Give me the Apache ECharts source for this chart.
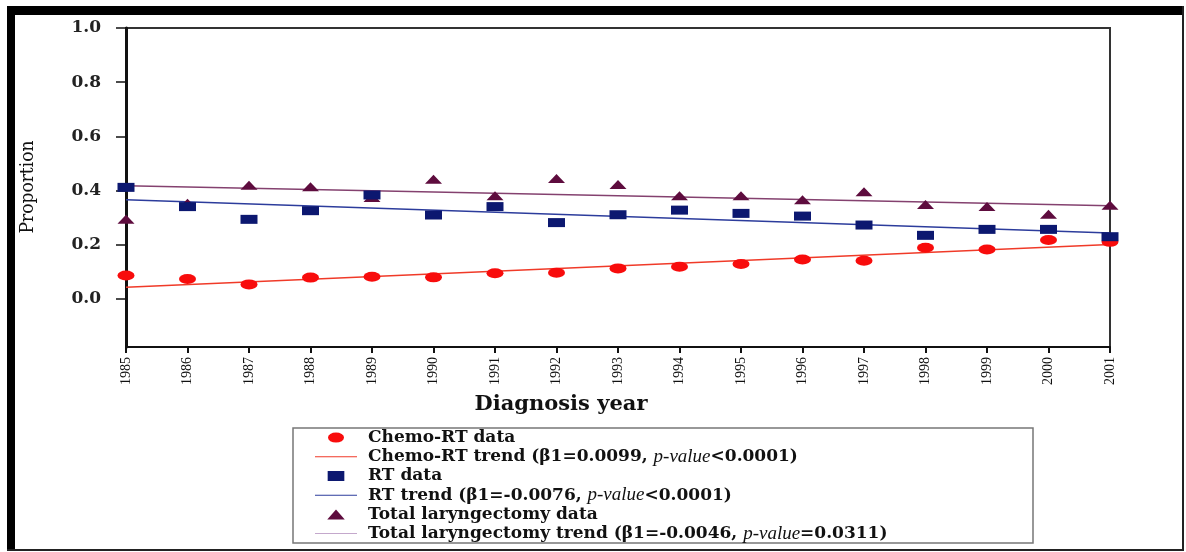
<!DOCTYPE html>
<html>
<head>
<meta charset="utf-8">
<script src="https://cdn.jsdelivr.net/npm/echarts@6/dist/echarts.min.js"></script>
<style>
  html, body { margin: 0; padding: 0; background: #fff; }
  #chart { width: 1186px; height: 552px; }
</style>
</head>
<body>
<div id="chart"></div>
<script>
  // values
  const years = [1985, 1986, 1987, 1988, 1989, 1990, 1991, 1992, 1993, 1994, 1995, 1996, 1997, 1998, 1999, 2000, 2001];
  const chemoData = [0.087, 0.074, 0.054, 0.079, 0.082, 0.080, 0.095, 0.097, 0.113, 0.119, 0.129, 0.146, 0.141, 0.189, 0.183, 0.218, 0.211];
  const rtData = [0.412, 0.341, 0.294, 0.326, 0.384, 0.310, 0.341, 0.282, 0.311, 0.328, 0.316, 0.306, 0.273, 0.235, 0.257, 0.257, 0.230];
  const tlData = [0.294, 0.353, 0.420, 0.414, 0.375, 0.442, 0.381, 0.445, 0.423, 0.381, 0.381, 0.366, 0.396, 0.349, 0.341, 0.313, 0.346];
  // trend lines: value at first and last year
  const chemoTrend = [0.043, 0.201];
  const rtTrend = [0.366, 0.244];
  const tlTrend = [0.418, 0.344];
  const yTicks = [0, 0.2, 0.4, 0.6, 0.8, 1.0];

  const names = [
    'Chemo-RT data',
    'Chemo-RT trend',
    'RT data',
    'RT trend',
    'Total laryngectomy data',
    'Total laryngectomy trend'
  ];
  const trendText = {
    'Chemo-RT trend': ['(β1=0.0099, ', '<0.0001)'],
    'RT trend': ['(β1=-0.0076, ', '<0.0001)'],
    'Total laryngectomy trend': ['(β1=-0.0046, ', '=0.0311)']
  };

  const pairs = (vals) => years.map((y, i) => [y, vals[i]]);
  const trend = (t) => [[years[0], t[0]], [years[years.length - 1], t[1]]];

  const myChart = echarts.init(document.getElementById('chart'));

  const serif = 'Liberation Serif';
  const boldSerif = 'DejaVu Serif';
  const narrow = "'Liberation Sans Narrow', 'DejaVu Serif Condensed', 'Liberation Serif'";
  // thin bar used as the legend icon of the trend lines, so no dot is drawn on them
  const lineIcon = 'path://M0,0 L42,0 L42,1 L0,1 Z';

  const options = {
    animation: false,
    backgroundColor: '#fff',
    grid: {
      left: 126,
      right: 76,
      top: 28,
      bottom: 205,
      show: true,
      borderColor: '#333',
      borderWidth: 2
    },
    xAxis: {
      type: 'value',
      min: 1985,
      max: 2001,
      interval: 1,
      splitLine: { show: false },
      axisLine: { onZero: false, lineStyle: { color: '#111', width: 2 } },
      axisTick: { length: 6, lineStyle: { color: '#111', width: 2 } },
      axisLabel: {
        rotate: 90,
        margin: 10,
        color: '#111',
        fontFamily: serif,
        fontSize: 14,
        formatter: (v) => String(v)
      }
    },
    yAxis: {
      type: 'value',
      min: -0.177,
      max: 1,
      splitLine: { show: false },
      axisLine: { show: true, lineStyle: { color: '#111', width: 3 } },
      axisTick: { show: true, length: 10, customValues: yTicks, lineStyle: { color: '#111', width: 1.5 } },
      axisLabel: {
        customValues: yTicks,
        margin: 25,
        color: '#222',
        fontFamily: boldSerif,
        fontWeight: 'bold',
        fontSize: 17,
        formatter: (v) => v.toFixed(1)
      }
    },
    legend: {
      orient: 'vertical',
      left: 315,
      top: 428,
      padding: 0,
      itemWidth: 42,
      itemHeight: 10,
      itemGap: 0,
      selectedMode: false,
      data: [
        { name: names[0], icon: 'path://M8,0 A8,5 0 1,1 8,10 A8,5 0 1,1 8,0 Z' },
        { name: names[1], icon: lineIcon },
        { name: names[2], icon: 'path://M0,0 L15,0 L15,9 L0,9 Z' },
        { name: names[3], icon: lineIcon, lineStyle: { width: 2 } },
        { name: names[4], icon: 'path://M7,0 L14,8 L0,8 Z' },
        { name: names[5], icon: lineIcon, lineStyle: { color: '#c4a8cc', width: 1.5 }, itemStyle: { color: '#c4a8cc' } }
      ],
      formatter: (name) => {
        const t = trendText[name];
        if (!t) return '{b|' + name + '}';
        return '{b|' + name + ' ' + t[0] + '}{i|p-value}{b|' + t[1] + '}';
      },
      textStyle: {
        padding: [0, 0, 0, 6],
        lineHeight: 19.2,
        rich: {
          b: { fontFamily: boldSerif, fontWeight: 'bold', fontSize: 17, color: '#111', lineHeight: 19.2 },
          i: { fontFamily: serif, fontStyle: 'italic', fontSize: 19, color: '#111', lineHeight: 19.2 }
        }
      }
    },
    graphic: [
      // outer frame of the figure
      { type: 'rect', shape: { x: 7, y: 6, width: 8, height: 545 }, style: { fill: '#000' } },
      { type: 'rect', shape: { x: 7, y: 6, width: 1177, height: 9 }, style: { fill: '#000' } },
      { type: 'line', shape: { x1: 1183, y1: 6, x2: 1183, y2: 551 }, style: { stroke: '#222', lineWidth: 2 } },
      { type: 'line', shape: { x1: 7, y1: 550, x2: 1184, y2: 550 }, style: { stroke: '#222', lineWidth: 2 } },
      // legend box
      { type: 'rect', shape: { x: 293, y: 428, width: 740, height: 115 }, style: { fill: 'none', stroke: '#777', lineWidth: 1.5 } },
      // axis titles
      {
        type: 'text', x: 561, y: 405,
        style: { text: 'Diagnosis year', fontFamily: boldSerif, fontWeight: 'bold', fontSize: 21, fill: '#111', align: 'center', verticalAlign: 'middle' }
      },
      {
        type: 'text', x: 28, y: 187, rotation: Math.PI / 2,
        style: { text: 'Proportion', fontFamily: narrow, fontSize: 19, fill: '#111', align: 'center', verticalAlign: 'middle' }
      }
    ],
    series: [
      {
        name: names[1], type: 'line', data: trend(chemoTrend), symbol: 'none', z: 2,
        lineStyle: { color: '#f03a28', width: 1.5 }, itemStyle: { color: '#f03a28' }
      },
      {
        name: names[3], type: 'line', data: trend(rtTrend), symbol: 'none', z: 2,
        lineStyle: { color: '#2c3c9c', width: 1.5 }, itemStyle: { color: '#2c3c9c' }
      },
      {
        name: names[5], type: 'line', data: trend(tlTrend), symbol: 'none', z: 2,
        lineStyle: { color: '#84416f', width: 1.5 }, itemStyle: { color: '#84416f' }
      },
      {
        name: names[0], type: 'scatter', data: pairs(chemoData), z: 3,
        symbol: 'circle', symbolSize: [17, 10], itemStyle: { color: '#f80c0c', opacity: 1 }
      },
      {
        name: names[4], type: 'scatter', data: pairs(tlData), z: 4,
        symbol: 'triangle', symbolSize: [17, 9], itemStyle: { color: '#5e0c3e', opacity: 1 }
      },
      {
        name: names[2], type: 'scatter', data: pairs(rtData), z: 5,
        symbol: 'rect', symbolSize: [17, 9], itemStyle: { color: '#0c1870', opacity: 1 }
      }
    ]
  };
  myChart.setOption(options);
</script>
</body>
</html>
